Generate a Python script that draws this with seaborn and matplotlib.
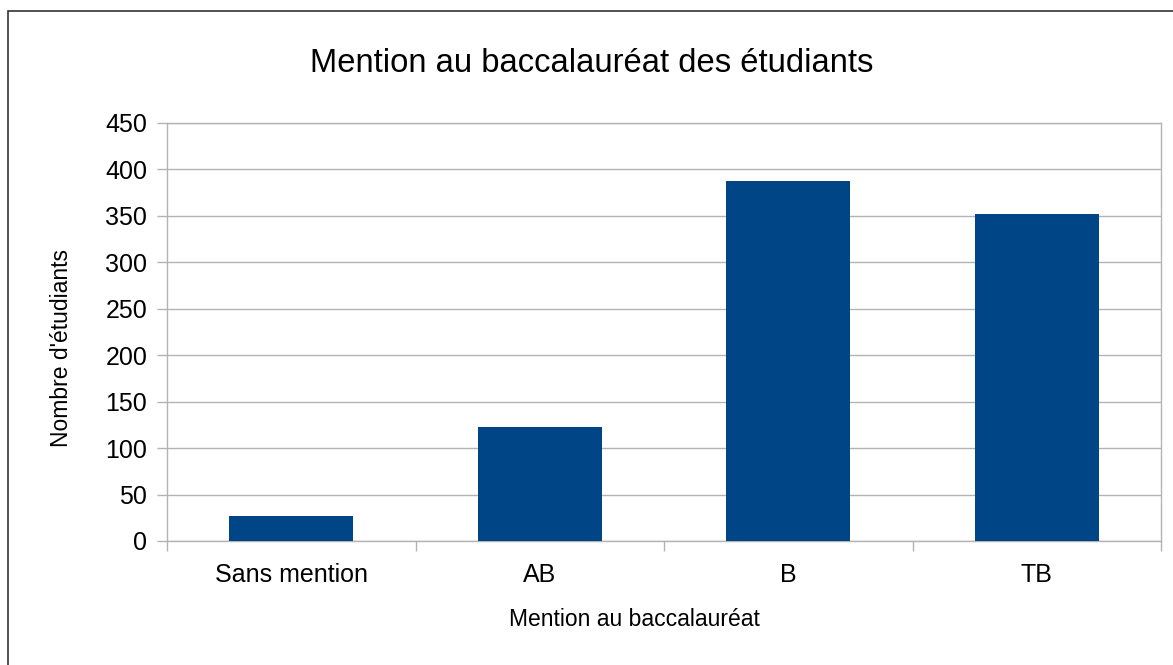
import matplotlib
matplotlib.use("Agg")
import matplotlib.pyplot as plt
import seaborn as sns
import pandas as pd
from matplotlib.patches import Rectangle
from matplotlib.ticker import MultipleLocator, FixedLocator

categories = ["Sans mention", "AB", "B", "TB"]
values = [27, 123, 388, 352]
title = "Mention au baccalauréat des étudiants"
xlabel = "Mention au baccalauréat"
ylabel = "Nombre d'étudiants"

sns.set_theme(style="white")
plt.rcParams['font.family'] = ['Liberation Sans', 'DejaVu Sans']

df = pd.DataFrame({"cat": categories, "val": values})

fig = plt.figure(figsize=(11.73, 6.65), dpi=100)
ax = fig.add_axes([167/1173, 1-541/665, (1161-167)/1173, (541-123)/665])

sns.barplot(data=df, x="cat", y="val", color="#004586", saturation=1,
            width=0.5, ax=ax, edgecolor="none", zorder=3)

grid_c = "#b3b3b3"
ax.set_ylim(0, 450)
ax.set_xlim(-0.5, len(categories) - 0.5)
ax.yaxis.set_major_locator(MultipleLocator(50))
ax.grid(axis="y", color=grid_c, linewidth=1, zorder=0)
ax.set_axisbelow(True)

for side in ["left", "bottom", "right", "top"]:
    ax.spines[side].set_visible(True)
    ax.spines[side].set_color(grid_c)
    ax.spines[side].set_linewidth(1)

ax.tick_params(axis="y", length=7.2, width=1, color=grid_c, pad=7, labelsize=18,
               labelcolor="#000000", left=True)
ax.xaxis.set_minor_locator(FixedLocator([i - 0.5 for i in range(len(categories) + 1)]))
ax.tick_params(axis="x", which="major", length=0, pad=16, labelsize=18, labelcolor="#000000")
ax.tick_params(axis="x", which="minor", length=7.2, width=1, color=grid_c, bottom=True)

ax.set_xlabel(xlabel, fontsize=16.5, color="#000000")
ax.set_ylabel(ylabel, fontsize=16.5, color="#000000")
ax.xaxis.set_label_coords((634-167)/994, (541-619)/418)
ax.yaxis.set_label_coords((62-167)/994, (541-348)/418)
ax.xaxis.label.set_va("center")
ax.yaxis.label.set_va("center")

fig.text(592/1173, 1-64/665, title, ha="center", va="center", fontsize=23.6, color="#000000")

# outer border (top and left visible, extends beyond right/bottom)
fig.patches.append(Rectangle((8/1173, -0.1), 1.2, 1 - 11/665 + 0.1,
                             transform=fig.transFigure, fill=False,
                             edgecolor="#333333", linewidth=1.2, zorder=10))

fig.savefig("out.png", dpi=100, facecolor="white")
